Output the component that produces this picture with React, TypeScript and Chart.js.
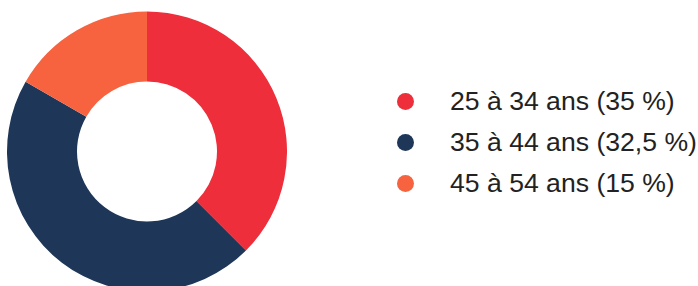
import React, { useEffect, useRef } from "react";
import { Chart, registerables } from "chart.js";

Chart.register(...registerables);

const categories = ["25 à 34 ans (35 %)", "35 à 44 ans (32,5 %)", "45 à 54 ans (15 %)"];
const sliceValues = [37.5, 45.8, 16.7];
const sliceColors = ["#EE2E3B", "#1E3657", "#F7623F"];

export default function App() {
  const canvasRef = useRef<HTMLCanvasElement | null>(null);

  useEffect(() => {
    if (!canvasRef.current) return;
    const chart = new Chart(canvasRef.current, {
      type: "doughnut",
      data: {
        labels: categories,
        datasets: [
          {
            data: sliceValues,
            backgroundColor: sliceColors,
            borderWidth: 0,
            hoverOffset: 0,
          },
        ],
      },
      options: {
        animation: false,
        responsive: true,
        maintainAspectRatio: false,
        cutout: "50%",
        layout: { padding: 0 },
        plugins: {
          legend: { display: false },
          tooltip: { enabled: false },
        },
      },
    });
    return () => chart.destroy();
  }, []);

  return (
    <div
      style={{
        position: "fixed",
        left: 0,
        top: 0,
        width: 698,
        height: 286,
        overflow: "hidden",
        background: "#ffffff",
      }}
    >
      <div style={{ position: "absolute", left: 7, top: 11, width: 280, height: 281 }}>
        <canvas ref={canvasRef} />
      </div>
      <div
        style={{
          position: "absolute",
          left: 397,
          top: 80.5,
          fontFamily: "'Liberation Sans', Arial, sans-serif",
          fontSize: 26.6,
          color: "#222222",
        }}
      >
        {categories.map((c, i) => (
          <div
            key={c}
            style={{
              display: "flex",
              alignItems: "center",
              height: 41.4,
              lineHeight: "41.4px",
              whiteSpace: "nowrap",
            }}
          >
            <span
              style={{
                display: "inline-block",
                width: 17,
                height: 17,
                borderRadius: "50%",
                background: sliceColors[i],
                marginRight: 36,
                flex: "none",
              }}
            />
            <span>{c}</span>
          </div>
        ))}
      </div>
    </div>
  );
}
